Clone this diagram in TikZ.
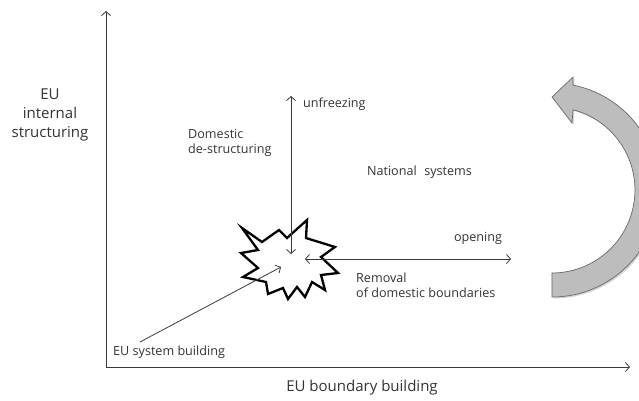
\documentclass[tikz,border=0pt]{standalone}
\usepackage{fontspec}
\setmainfont{Open Sans}
\usetikzlibrary{arrows.meta,shadows,calc}
\definecolor{axisgray}{HTML}{3A3A3A}
\definecolor{bandfill}{HTML}{BDBDBD}
\definecolor{bandline}{HTML}{6A6A6A}
\begin{document}
\begin{tikzpicture}[x=1pt,y=-1pt,
  axis/.style={draw=axisgray,line width=0.8pt,-{Straight Barb[length=4pt,width=9pt]}},
  dbl/.style={draw=axisgray,line width=0.8pt,{Straight Barb[length=4pt,width=9pt]}-{Straight Barb[length=4pt,width=9pt]}},
  biglabel/.style={font=\fontsize{15}{19}\selectfont,text=black!80,inner sep=0pt},
  smalllabel/.style={font=\fontsize{12.6}{15}\selectfont,text=black!80,inner sep=0pt},
  burst/.style={draw=black,line width=2.3pt,line join=miter,fill=white},
  band/.style={draw=bandline,line width=0.7pt,fill=bandfill,drop shadow={opacity=0.35,shadow xshift=1.5pt,shadow yshift=-1.5pt}}]
\useasboundingbox (0,0) rectangle (639,400);
\clip (0,0) rectangle (639,400);

% coordinates
\coordinate (O) at (106,367);
\coordinate (ytop) at (106,11);
\coordinate (xend) at (630,367);
\coordinate (utop) at (291,96);
\coordinate (ubot) at (291,254);
\coordinate (oleft) at (305,259);
\coordinate (oright) at (511,259);
\coordinate (sysstart) at (140,342);
\coordinate (sysend) at (281,267);
\coordinate (C) at (552,190);

% starburst
\draw[burst] (242,228) -- (262,242) -- (279,230) -- (287,238) -- (307,220) -- (306,238)
  -- (335,247) -- (321,257) -- (338,273) -- (321,275) -- (325,290) -- (312,282)
  -- (305,297) -- (297,287) -- (288,299) -- (283,288) -- (268,294) -- (266,282)
  -- (243,277) -- (258,268) -- (241,253) -- (258,250) -- cycle;

% axes
\draw[axis] (O) -- (ytop);
\draw[axis] (O) -- (xend);
% inner arrows
\draw[dbl] (utop) -- (ubot);
\draw[dbl] (oleft) -- (oright);
\draw[axis] (sysstart) -- (sysend);

% curved arrow
\path[band] ($(C)+(90:107)$) arc[start angle=90,end angle=-78.7,radius=107]
  -- (573,77) -- (552,97) -- (572,123) -- (573,109.7)
  arc[start angle=-75.3,end angle=90,radius=83] -- cycle;

% labels
\node[biglabel,align=center] (ylab) at (50,115) {EU\\internal\\structuring};
\node[biglabel] (xlab) at (362,388) {EU boundary building};
\node[smalllabel,align=left,anchor=west] (dom) at (188,142.5) {Domestic\\de-structuring};
\node[smalllabel,anchor=west] (unf) at (303,104) {unfreezing};
\node[smalllabel] (nat) at (419.5,172) {National\hspace{0.6em}systems};
\node[smalllabel] (open) at (478,238) {opening};
\node[smalllabel,align=left,anchor=west] (rem) at (356,285) {Removal\\of domestic boundaries};
\node[smalllabel,anchor=west] (sys) at (113,352) {EU system building};
\end{tikzpicture}
\end{document}
